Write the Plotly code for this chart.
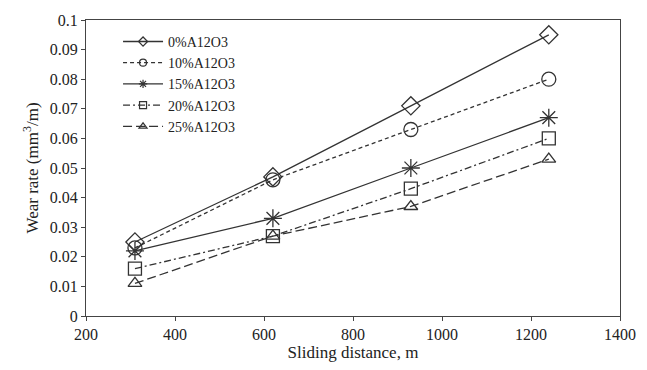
import plotly.graph_objects as go

distance = [310, 620, 930, 1240]
wear_0 = [0.025, 0.047, 0.071, 0.095]
wear_10 = [0.023, 0.046, 0.063, 0.080]
wear_15 = [0.022, 0.033, 0.050, 0.067]
wear_20 = [0.016, 0.027, 0.043, 0.060]
wear_25 = [0.011, 0.027, 0.037, 0.053]
names = ["0%A12O3", "10%A12O3", "15%A12O3", "20%A12O3", "25%A12O3"]

series = [wear_0, wear_10, wear_15, wear_20, wear_25]
dashes = ["solid", "4px,3px", "solid", "7px,3px,2px,3px", "9px,4px"]
symbols = ["diamond-open", "circle-open", "asterisk-open", "square-open", "triangle-up-open"]
sizes = [14, 14, 15, 13, 12]
col = "#333333"

fig = go.Figure()
for ys, nm, d, s, sz in zip(series, names, dashes, symbols, sizes):
    fig.add_trace(go.Scatter(
        x=distance, y=ys, name=nm, mode="lines+markers", showlegend=False,
        line=dict(color=col, width=1.3, dash=d),
        marker=dict(symbol=s, size=sz, color=col, line=dict(color=col, width=1.3)),
    ))
    # legend entry with small markers (as in the reference)
    fig.add_trace(go.Scatter(
        x=[None], y=[None], name=nm, mode="lines+markers", showlegend=True,
        line=dict(color=col, width=1.3, dash=d),
        marker=dict(symbol=s, size=7, color=col, line=dict(color=col, width=1.2)),
    ))

font = "Liberation Serif, Times New Roman, serif"
fig.update_layout(
    width=647, height=370,
    margin=dict(l=86, r=27, t=20, b=54),
    paper_bgcolor="white", plot_bgcolor="white",
    font=dict(family=font, size=16, color="#222"),
    showlegend=True,
    legend=dict(x=0.06, y=0.98, xanchor="left", yanchor="top",
                bgcolor="rgba(255,255,255,0)", itemwidth=40,
                font=dict(family=font, size=14, color="#222"),
                tracegroupgap=0),
    xaxis=dict(range=[200, 1400], dtick=200, tick0=200,
               showline=True, linecolor="#444", linewidth=1, mirror=True,
               ticks="outside", ticklen=4, tickcolor="#444",
               showgrid=False, zeroline=False,
               title=dict(text="Sliding distance, m", standoff=2,
                          font=dict(family=font, size=17))),
    yaxis=dict(range=[0, 0.1], dtick=0.01, tick0=0,
               showline=True, linecolor="#444", linewidth=1, mirror=True,
               ticks="outside", ticklen=4, tickcolor="#444",
               showgrid=False, zeroline=False,
               title=dict(text="Wear rate (mm<sup>3</sup>/m)", standoff=6,
                          font=dict(family=font, size=17))),
)
fig.write_html("out.html")
